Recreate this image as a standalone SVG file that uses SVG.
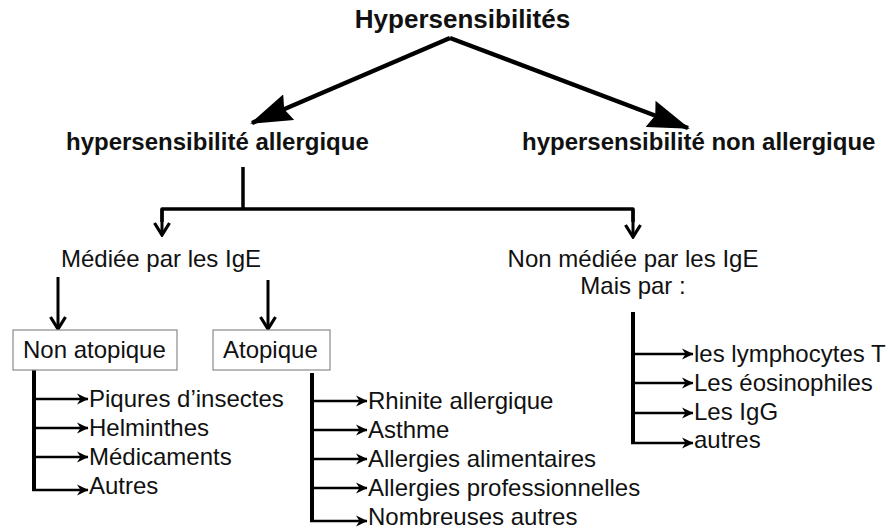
<svg xmlns="http://www.w3.org/2000/svg" width="888" height="531" viewBox="0 0 888 531">
<style>
.t{font-family:"Liberation Sans",Arial,sans-serif;font-size:24px;fill:#111}
.b{font-weight:bold}
.title{font-size:26px;font-weight:bold}
.box{fill:#fff;stroke:#8a8a8a;stroke-width:1.2}
.big{stroke:#000;stroke-width:4.5;fill:none;marker-end:url(#bigHead)}
.trunk{stroke:#000;stroke-width:3.5;fill:none;stroke-linejoin:round}
.drop{stroke:#000;stroke-width:3;fill:none;marker-end:url(#chev)}
.vert{stroke:#000;stroke-width:4;fill:none}
.br{stroke:#000;stroke-width:2.5;fill:none;marker-end:url(#sm)}
</style>
<defs>
<marker id="bigHead" viewBox="0 0 42 28" refX="40" refY="14" markerWidth="42" markerHeight="28" orient="auto" markerUnits="userSpaceOnUse">
<path d="M0,0 L42,14 L0,28 L5,14 z" fill="#000"/>
</marker>
<marker id="chev" viewBox="0 0 16 18" refX="14" refY="9" markerWidth="16" markerHeight="18" orient="auto" markerUnits="userSpaceOnUse">
<path d="M2,1.5 L14,9 L2,16.5" fill="none" stroke="#000" stroke-width="3.2"/>
</marker>
<marker id="sm" viewBox="0 0 12 12" refX="11" refY="6" markerWidth="12" markerHeight="12" orient="auto" markerUnits="userSpaceOnUse">
<path d="M0,0.5 L11.5,6 L0,11.5 L3.5,6 z" fill="#000"/>
</marker>
</defs>
<rect width="888" height="531" fill="#fff"/>

<g id="connectors">
<line class="big" x1="450" y1="38" x2="252" y2="123"/>
<line class="big" x1="450" y1="38" x2="688" y2="128"/>
<path class="trunk" d="M243,167 L243,209"/>
<path class="trunk" d="M162,222 L162,209 L633,209 L633,222"/>
<line class="drop" x1="162" y1="209" x2="162" y2="235"/>
<line class="drop" x1="633" y1="209" x2="633" y2="237"/>
<line class="drop" x1="58" y1="277" x2="58" y2="329"/>
<line class="drop" x1="268" y1="280" x2="268" y2="329"/>
<path class="vert" d="M34,370 L34,490"/>
<line class="br" x1="32" y1="399" x2="88" y2="399"/>
<line class="br" x1="32" y1="428" x2="88" y2="428"/>
<line class="br" x1="32" y1="457" x2="88" y2="457"/>
<line class="br" x1="32" y1="490" x2="88" y2="490"/>
<path class="vert" d="M312,373 L312,521"/>
<line class="br" x1="310" y1="401" x2="367" y2="401"/>
<line class="br" x1="310" y1="430" x2="367" y2="430"/>
<line class="br" x1="310" y1="459" x2="367" y2="459"/>
<line class="br" x1="310" y1="488" x2="367" y2="488"/>
<line class="br" x1="310" y1="521" x2="367" y2="521"/>
<path class="vert" d="M633,312 L633,443"/>
<line class="br" x1="631" y1="354" x2="693" y2="354"/>
<line class="br" x1="631" y1="383" x2="693" y2="383"/>
<line class="br" x1="631" y1="413" x2="693" y2="413"/>
<line class="br" x1="631" y1="443" x2="693" y2="443"/>
</g>

<g id="n-hyper"><text class="t title" x="462.5" y="28" text-anchor="middle">Hypersensibilités</text></g>
<g id="n-allergique"><text class="t b" x="66" y="150">hypersensibilité allergique</text></g>
<g id="n-nonallergique"><text class="t b" x="522" y="150">hypersensibilité non allergique</text></g>
<g id="n-ige"><text class="t" x="161" y="267" text-anchor="middle">Médiée par les IgE</text></g>
<g id="n-nonige"><text class="t" x="633" y="267" text-anchor="middle">Non médiée par les IgE</text><text class="t" x="633" y="294" text-anchor="middle">Mais par :</text></g>
<g id="n-nonatopique"><rect class="box" x="13" y="330" width="164" height="40"/><text class="t" x="23" y="358">Non atopique</text></g>
<g id="n-atopique"><rect class="box" x="213" y="330" width="117" height="40"/><text class="t" x="223" y="358">Atopique</text></g>
<g id="n-piqures"><text class="t" x="89" y="407">Piqures d’insectes</text></g>
<g id="n-helminthes"><text class="t" x="89" y="436">Helminthes</text></g>
<g id="n-medicaments"><text class="t" x="89" y="465">Médicaments</text></g>
<g id="n-autres1"><text class="t" x="89" y="494">Autres</text></g>
<g id="n-rhinite"><text class="t" x="368" y="409">Rhinite allergique</text></g>
<g id="n-asthme"><text class="t" x="368" y="438">Asthme</text></g>
<g id="n-alim"><text class="t" x="368" y="467">Allergies alimentaires</text></g>
<g id="n-prof"><text class="t" x="368" y="496">Allergies professionnelles</text></g>
<g id="n-nombreuses"><text class="t" x="368" y="525">Nombreuses autres</text></g>
<g id="n-lympho"><text class="t" x="694" y="362">les lymphocytes T</text></g>
<g id="n-eosino"><text class="t" x="694" y="391">Les éosinophiles</text></g>
<g id="n-igg"><text class="t" x="694" y="420">Les IgG</text></g>
<g id="n-autres2"><text class="t" x="694" y="448">autres</text></g>
</svg>
